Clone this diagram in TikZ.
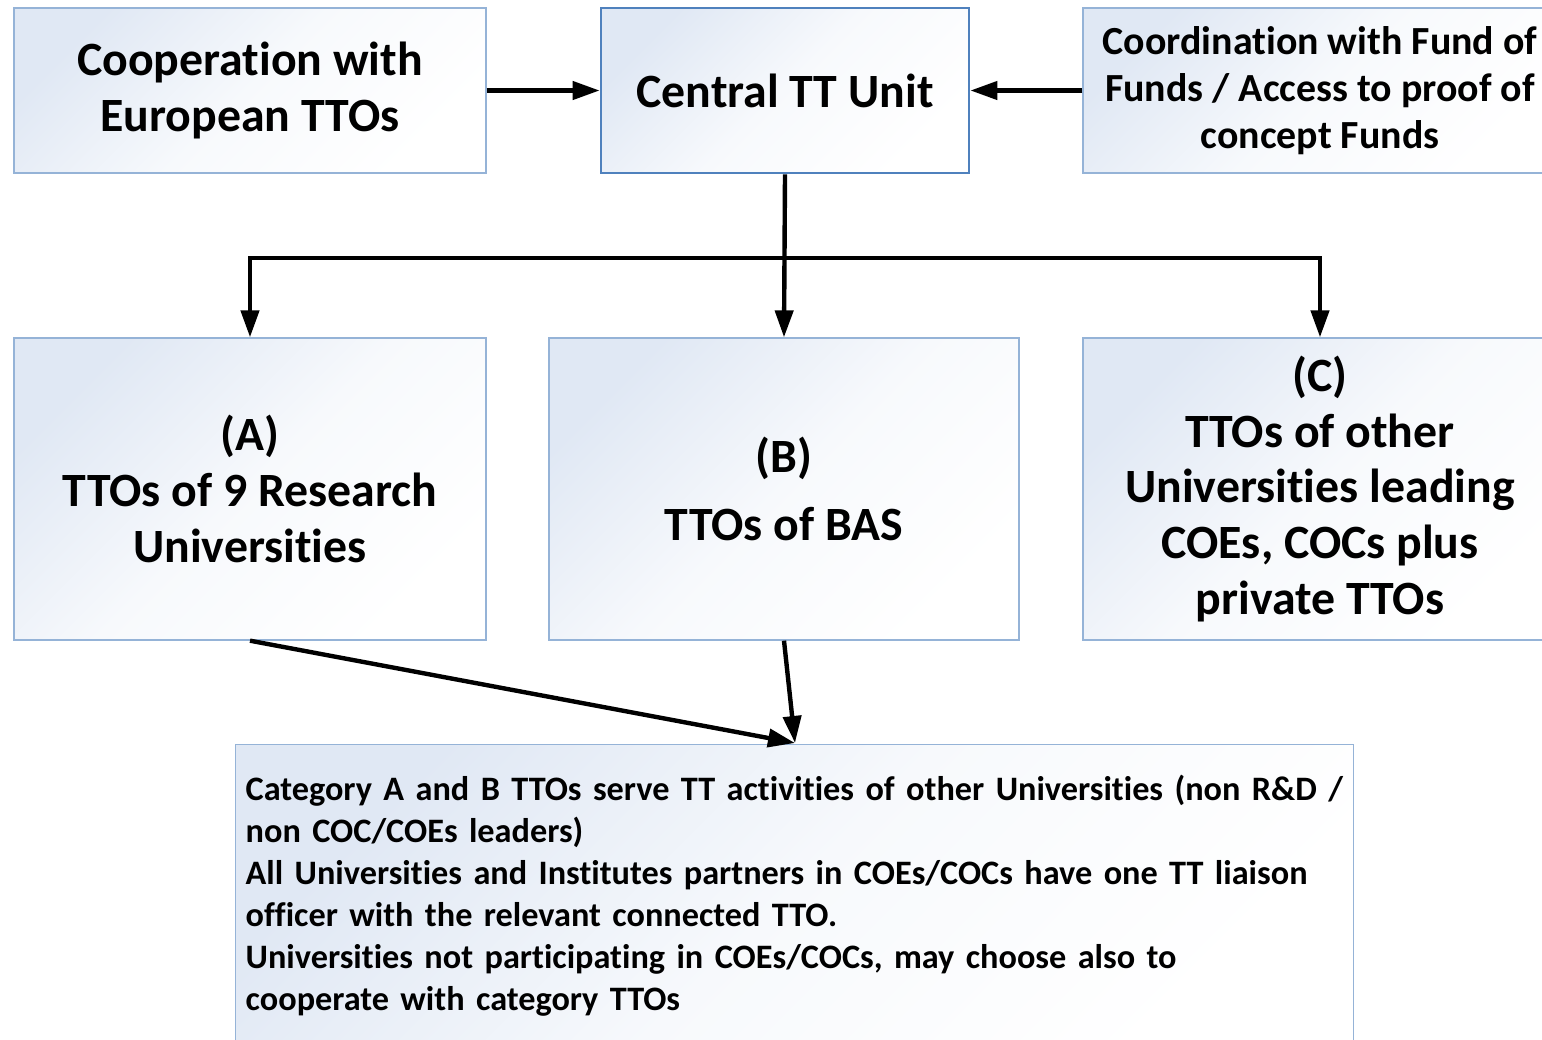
\documentclass[tikz,border=0pt]{standalone}
\usepackage{fontspec}
\setmainfont{Carlito}[Ligatures=NoCommon]
\usetikzlibrary{arrows.meta,positioning}
\definecolor{edgeblue}{RGB}{149,179,215}
\definecolor{unitblue}{RGB}{79,129,189}
\definecolor{tintblue}{RGB}{224,232,244}

\begin{document}
\begin{tikzpicture}[x=0.02cm,y=-0.02cm,
  box/.style={draw=edgeblue,line width=0.8pt,top color=tintblue,bottom color=white,
    middle color=tintblue!25,shading angle=45,align=center,inner sep=0pt,
    font=\fontsize{27.2}{31.7}\selectfont\bfseries},
  arr/.style={line width=2.5pt,-{Triangle[length=0.54cm,width=0.36cm]}}]
  \useasboundingbox (0,0) rectangle (1542,1039);
  % top row
  \node[box,minimum width=9.44cm,minimum height=3.3cm] (coop) at (250,90.5) {Cooperation with\\European TTOs};
  \node[box,draw=unitblue,line width=1.6pt,minimum width=7.36cm,minimum height=3.3cm] (unit) at (785,90.5) {Central TT Unit};
  \node[box,minimum width=9.48cm,minimum height=3.3cm,font=\fontsize{22.7}{26.8}\selectfont\bfseries] (fund) at (1320,90.5) {Coordination with Fund of\\Funds / Access to proof of\\concept Funds};
  % middle row
  \node[box,minimum width=9.44cm,minimum height=6.04cm] (ttoA) at (250,489) {(A)\\TTOs of 9 Research\\Universities};
  \node[box,minimum width=9.4cm,minimum height=6.04cm] (ttoB) at (784,489) {(B)\\[0.24cm]TTOs of BAS};
  \node[box,minimum width=9.48cm,minimum height=6.04cm] (ttoC) at (1320,489) {(C)\\TTOs of other\\Universities leading\\COEs, COCs plus\\private TTOs};
  % bottom note
  \node[box,anchor=north west,align=left,inner xsep=0.2cm,text width=21.96cm,minimum height=6.04cm,
    font=\fontsize{19.5}{23.8}\selectfont\bfseries] (note) at (235,744)
    {Category A and B TTOs serve TT activities of other Universities (non R\&D /\\
     non COC/COEs leaders)\\
     All Universities and Institutes partners in COEs/COCs have one TT liaison\\
     officer with the relevant connected TTO.\\
     Universities not participating in COEs/COCs, may choose also to\\
     cooperate with category TTOs};
  \coordinate (split) at (785,258);
  \coordinate (meet) at (795,743);
  % connectors
  \draw[arr] (coop) -- (unit);
  \draw[arr] (fund) -- (unit);
  \draw[arr] (unit.south) -- (ttoB.north);
  \draw[arr] (split) -| (ttoA.north);
  \draw[arr] (split) -| (ttoC.north);
  \draw[arr] (ttoA.south) -- (meet);
  \draw[arr] (ttoB.south) -- (meet);
\end{tikzpicture}
\end{document}
